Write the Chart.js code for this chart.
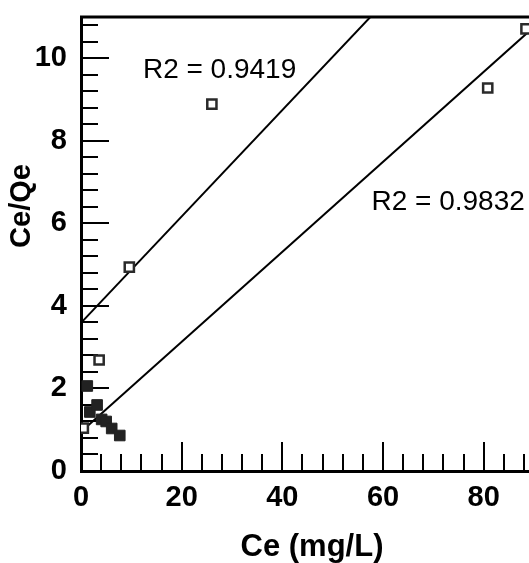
<!DOCTYPE html>
<html>
<head>
<meta charset="utf-8">
<script src="https://cdn.jsdelivr.net/npm/chart.js@4.4.1/dist/chart.umd.min.js"></script>
<style>
  html, body { margin: 0; padding: 0; background: #fff; overflow: hidden; }
  #myChart { display: block; }
</style>
</head>
<body>
<canvas id="myChart" width="529" height="563"></canvas>
<script>
// open squares
const openCe = [0.46, 3.6, 9.6, 26.0, 80.8, 88.4];
const openCeQe = [1.04, 2.69, 4.94, 8.89, 9.28, 10.71];
// filled squares
const filledCe = [1.25, 1.75, 3.2, 4.1, 5.0, 6.1, 7.7];
const filledCeQe = [2.06, 1.43, 1.6, 1.25, 1.2, 1.03, 0.86];
// linear fits
const fitSlope = [0.1289, 0.109];
const fitIntercept = [3.59, 0.95];
const fitFrom = [0, 0.46];
const fitTo = [95, 95];
const fitR2 = ['R2 = 0.9419', 'R2 = 0.9832'];

const xTicks = [0, 20, 40, 60, 80];
const yTicks = [0, 2, 4, 6, 8, 10];

const FONT = 'Arial, "Liberation Sans", sans-serif';

const toPoints = (xs, ys) => xs.map((v, i) => ({ x: v, y: ys[i] }));

const fitLines = fitSlope.map((m, i) => ({
  type: 'line',
  data: [fitFrom[i], fitTo[i]].map((v) => ({ x: v, y: fitIntercept[i] + m * v })),
  borderColor: '#000',
  borderWidth: 2,
  pointRadius: 0,
  showLine: true,
  order: 3,
}));

// where each R2 text sits, in data units (left edge, middle)
const r2Pos = [{ x: 12.3, y: 9.72 }, { x: 57.7, y: 6.52 }];

// no extra room around the scales, the frame is placed by layout.padding
const noPad = (s) => {
  s.paddingLeft = 0;
  s.paddingRight = 0;
  s.paddingTop = 0;
  s.paddingBottom = 0;
};

const frameAndTicks = {
  id: 'frameAndTicks',
  beforeDatasetsDraw(chart) {
    const { ctx, chartArea: a, scales: { x, y } } = chart;
    ctx.save();
    ctx.strokeStyle = '#000';
    ctx.lineWidth = 2;
    ctx.beginPath();
    for (let v = 4; v <= x.max; v += 4) {
      const px = Math.round(x.getPixelForValue(v));
      const len = v % 20 === 0 ? 29 : 17;
      ctx.moveTo(px, a.bottom);
      ctx.lineTo(px, a.bottom - len);
    }
    for (let i = 1; i * 0.4 <= y.max + 1e-9; i++) {
      const py = Math.round(y.getPixelForValue(i * 0.4));
      const len = i % 5 === 0 ? 28 : 17;
      ctx.moveTo(a.left, py);
      ctx.lineTo(a.left + len, py);
    }
    ctx.stroke();
    ctx.lineWidth = 3;
    ctx.beginPath();
    ctx.moveTo(a.left - 1, a.top);
    ctx.lineTo(chart.width, a.top);
    ctx.stroke();
    ctx.restore();
  },
  afterDatasetsDraw(chart) {
    const { ctx, scales: { x, y } } = chart;
    ctx.save();
    ctx.fillStyle = '#000';
    ctx.font = '28px ' + FONT;
    ctx.textAlign = 'left';
    ctx.textBaseline = 'middle';
    fitR2.forEach((t, i) => {
      ctx.fillText(t, x.getPixelForValue(r2Pos[i].x), y.getPixelForValue(r2Pos[i].y));
    });
    // axis titles
    ctx.textAlign = 'center';
    ctx.font = 'bold 31px ' + FONT;
    ctx.fillText('Ce (mg/L)', 312, 547);
    ctx.font = 'bold 29px ' + FONT;
    ctx.translate(22, 206);
    ctx.rotate(-Math.PI / 2);
    ctx.fillText('Ce/Qe', 0, 0);
    ctx.restore();
  },
};

const ctx = document.getElementById('myChart').getContext('2d');
const myChart = new Chart(ctx, {
  type: 'scatter',
  data: {
    datasets: [
      {
        data: toPoints(openCe, openCeQe),
        pointStyle: 'rect',
        pointRadius: 6.5,
        pointBorderWidth: 2.5,
        pointBackgroundColor: '#fff',
        pointBorderColor: '#2a2a2a',
        order: 1,
      },
      {
        data: toPoints(filledCe, filledCeQe),
        pointStyle: 'rect',
        pointRadius: 7.5,
        pointBorderWidth: 1,
        pointBackgroundColor: '#222',
        pointBorderColor: '#222',
        order: 2,
      },
      ...fitLines,
    ],
  },
  options: {
    responsive: false,
    animation: false,
    devicePixelRatio: 1,
    layout: { autoPadding: false, padding: { top: 17, right: 0, left: 0, bottom: 0 } },
    plugins: { legend: { display: false }, tooltip: { enabled: false } },
    scales: {
      x: {
        type: 'linear',
        min: 0,
        max: 89,
        afterFit: (s) => { s.height = 92; noPad(s); },
        afterBuildTicks: (s) => { s.ticks = xTicks.map((v) => ({ value: v })); },
        grid: { display: false, drawTicks: false },
        border: { display: true, color: '#000', width: 3 },
        ticks: { color: '#000', padding: 10, font: { family: FONT, size: 29, weight: 'bold' } },
      },
      y: {
        type: 'linear',
        min: 0,
        max: 11,
        afterFit: (s) => { s.width = 81; noPad(s); },
        afterBuildTicks: (s) => { s.ticks = yTicks.map((v) => ({ value: v })); },
        grid: { display: false, drawTicks: false },
        border: { display: true, color: '#000', width: 3 },
        ticks: { color: '#000', padding: 14, font: { family: FONT, size: 29, weight: 'bold' } },
      },
    },
  },
  plugins: [frameAndTicks],
});
</script>
</body>
</html>
